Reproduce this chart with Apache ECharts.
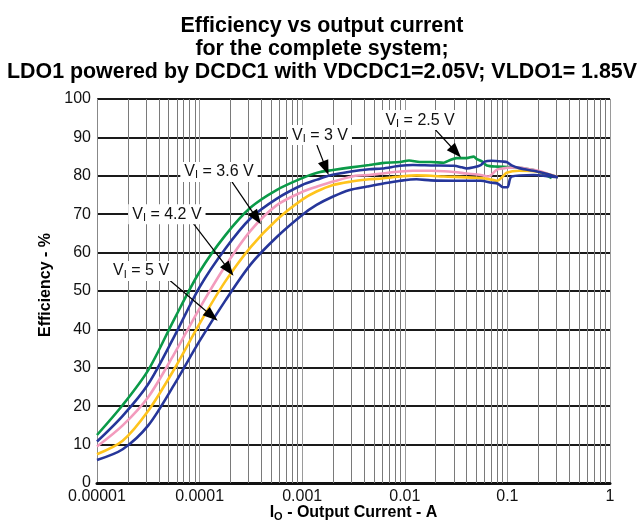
<!DOCTYPE html>
<html><head><meta charset="utf-8">
<script src="https://cdn.jsdelivr.net/npm/echarts@6/dist/echarts.min.js"></script>
<style>html,body{margin:0;padding:0;background:#fff}#c{width:644px;height:525px}</style>
</head><body><div id="c"></div>
<script>
// ---- text ----
const titleLines = ['Efficiency vs output current', 'for the complete system;', 'LDO1 powered by DCDC1 with VDCDC1=2.05V; VLDO1= 1.85V'];
const xTickLabels = ['0.00001', '0.0001', '0.001', '0.01', '0.1', '1'];
const yAxisTitle = 'Efficiency - %';
// ---- axis ticks ----
const yMin = 0, yMax = 100, yStep = 10;
const xMin = 1e-5, xMax = 1;
const decades = [1e-5, 1e-4, 1e-3, 1e-2, 1e-1];
const minorMultipliers = [2, 3, 4, 5, 6, 7, 8, 9];

// ---- series: output current (A) and efficiency (%) ----
const green25I = [1e-5, 1.78e-5, 3.16e-5, 5.62e-5, 1e-4, 1.78e-4, 3.16e-4, 5.62e-4, 1e-3, 1.4e-3, 2e-3, 3e-3, 4.5e-3, 6e-3, 9e-3, 0.011, 0.014, 0.018, 0.024, 0.027, 0.032, 0.04, 0.047, 0.05, 0.056, 0.063, 0.08, 0.1, 0.13, 0.18, 0.22, 0.27];
const green25Eff = [12.5, 20.3, 29.4, 42.5, 55, 64.5, 71.8, 76.3, 79.4, 80.8, 81.5, 82.2, 82.8, 83.3, 83.6, 84.0, 83.6, 83.6, 83.4, 84.0, 84.6, 84.6, 85.0, 84.4, 83.8, 82.7, 82.4, 82.3, 82.1, 81.5, 80.6, 79.4];

const blue30I = [1e-5, 1.78e-5, 3.16e-5, 5.62e-5, 1e-4, 1.78e-4, 3.16e-4, 5.62e-4, 1e-3, 1.4e-3, 1.8e-3, 3e-3, 4.5e-3, 6e-3, 9e-3, 0.012, 0.018, 0.03, 0.036, 0.04, 0.047, 0.055, 0.06, 0.07, 0.09, 0.1, 0.11, 0.13, 0.18, 0.25, 0.31];
const blue30Eff = [10.8, 17.5, 25.8, 38, 51, 61, 69, 74, 77.6, 79.0, 80, 81.1, 81.7, 81.9, 82.6, 82.8, 82.7, 82.6, 82.2, 81.9, 82.2, 82.8, 83.7, 83.9, 83.7, 83.5, 82.7, 82.0, 81.3, 80.4, 79.6];

const pink36I = [1e-5, 1.78e-5, 3.16e-5, 5.62e-5, 1e-4, 1.78e-4, 3.16e-4, 5.62e-4, 1e-3, 1.4e-3, 2e-3, 3.3e-3, 4.5e-3, 6e-3, 9e-3, 0.012, 0.018, 0.024, 0.03, 0.04, 0.055, 0.065, 0.079, 0.09, 0.1, 0.12, 0.15, 0.2, 0.25, 0.31];
const pink36Eff = [9.5, 15, 22.4, 33.5, 45.5, 56.5, 65.8, 72.3, 75.8, 77.2, 78.5, 80, 80.2, 80.6, 81.1, 81.3, 81.3, 81.2, 81.0, 80.6, 80.2, 79.8, 81.6, 81.9, 82.1, 82.2, 81.9, 81.3, 80.5, 79.7];

const yellow42I = [1e-5, 1.78e-5, 3.16e-5, 5.62e-5, 1e-4, 1.78e-4, 3.16e-4, 5.62e-4, 1e-3, 1.38e-3, 2e-3, 3e-3, 4.5e-3, 6e-3, 9e-3, 0.013, 0.018, 0.024, 0.04, 0.06, 0.07, 0.079, 0.09, 0.098, 0.13, 0.18, 0.25, 0.31];
const yellow42Eff = [7.5, 11, 18.8, 29.5, 41.5, 52.5, 61.5, 68.5, 73.8, 75.9, 77.6, 78.5, 79.1, 79.3, 79.8, 80.1, 80.0, 79.8, 79.6, 79.3, 79.0, 78.7, 79.8, 80.8, 81.3, 81.2, 80.4, 79.6];

const blue50I = [1e-5, 1.78e-5, 3.16e-5, 5.62e-5, 1e-4, 1.78e-4, 3.16e-4, 5.62e-4, 1e-3, 1.38e-3, 2e-3, 2.9e-3, 4.3e-3, 6.2e-3, 9e-3, 0.013, 0.018, 0.03, 0.055, 0.07, 0.08, 0.091, 0.1, 0.11, 0.18, 0.25, 0.31];
const blue50Eff = [6.0, 8.8, 15, 25.5, 37, 47.5, 57, 64, 69.8, 72.4, 74.6, 76.3, 77.2, 78.0, 78.7, 79.1, 78.8, 78.7, 78.7, 78.2, 78.0, 77.0, 77.0, 79.8, 80.2, 79.9, 79.6];

// ---- annotations ----
const annotationVolts = ['2.5 V', '3 V', '3.6 V', '4.2 V', '5 V'];
const labelI = [0.0141, 1.49e-3, 1.545e-4, 4.8e-5, 2.69e-5];
const labelEff = [94.5, 90.6, 81.0, 70.0, 55.2];
const arrowFromI = [0.01884, 1.39e-3, 2.07e-4, 8.63e-5, 4.81e-5];
const arrowFromEff = [92.7, 88.0, 78.4, 67.7, 53.4];
const arrowToI = [0.0315, 1.70e-3, 3.6e-4, 1.93e-4, 1.32e-4];
const arrowToEff = [86.2, 82.0, 69.0, 55.5, 43.5];

const FONT = '"Liberation Sans", Arial, Helvetica, sans-serif';
const zip = (xs, ys) => xs.map((x, i) => [x, ys[i]]);

function curve(name, xs, ys, color) {
  return {
    name, type: 'line', data: zip(xs, ys), showSymbol: false, smooth: 0.3,
    lineStyle: { color, width: 2.6 }, itemStyle: { color }, z: 3, silent: true
  };
}

const minorLines = [];
decades.forEach(d => minorMultipliers.forEach(m => minorLines.push({ coords: [[d * m, yMin], [d * m, yMax]] })));

const chart = echarts.init(document.getElementById('c'), null, { renderer: 'canvas' });
chart.setOption({
  animation: false,
  backgroundColor: '#fff',
  textStyle: { fontFamily: FONT },
  title: {
    text: titleLines.join('\n'), left: 'center', top: 10,
    textStyle: { fontFamily: FONT, fontSize: 21.4, fontWeight: 'bold', color: '#000', lineHeight: 23 }
  },
  grid: { left: 97, right: 34, top: 99, bottom: 42, containLabel: false, outerBoundsMode: 'none' },
  xAxis: {
    type: 'log', logBase: 10, min: xMin, max: xMax,
    axisLine: { show: true, lineStyle: { color: '#111', width: 3 } },
    axisTick: { show: false },
    axisLabel: {
      fontSize: 16, color: '#111', margin: 6, fontFamily: FONT,
      formatter: v => xTickLabels[Math.round(Math.log10(v)) + 5]
    },
    splitLine: { show: true, lineStyle: { color: '#9a9a9a', width: 1 } },
    name: '{b|I}{s|O}{b| - Output Current - A}', nameLocation: 'middle', nameGap: 21, nameMoveOverlap: false,
    nameTextStyle: {
      rich: {
        b: { fontFamily: FONT, fontSize: 16, fontWeight: 'bold', color: '#000', lineHeight: 18 },
        s: { fontFamily: FONT, fontSize: 11, fontWeight: 'bold', color: '#000', lineHeight: 11, verticalAlign: 'bottom', padding: [9, 0, 0, 0] }
      }
    }
  },
  yAxis: {
    type: 'value', min: yMin, max: yMax, interval: yStep,
    axisLine: { show: true, lineStyle: { color: '#888', width: 1 } },
    axisTick: { show: false },
    axisLabel: { fontSize: 16, color: '#111', margin: 6, fontFamily: FONT },
    splitLine: { show: true, lineStyle: { color: '#1a1a1a', width: 2 } },
    name: yAxisTitle, nameLocation: 'middle', nameGap: 42, nameRotate: 90,
    nameTextStyle: { fontFamily: FONT, fontSize: 16, fontWeight: 'bold', color: '#000', padding: [0, 0, 0, 12] }
  },
  series: [
    {
      name: 'minor-grid', type: 'lines', coordinateSystem: 'cartesian2d', z: 1, silent: true,
      polyline: false, animation: false,
      lineStyle: { color: '#7a7a7a', width: 1, opacity: 1, curveness: 0 },
      data: minorLines
    },
    curve('VI = 2.5 V', green25I, green25Eff, '#0b9a48'),
    curve('VI = 3.6 V', pink36I, pink36Eff, '#f39bbd'),
    curve('VI = 4.2 V', yellow42I, yellow42Eff, '#ffc41c'),
    curve('VI = 3 V', blue30I, blue30Eff, '#26369a'),
    curve('VI = 5 V', blue50I, blue50Eff, '#26369a'),
    {
      name: 'annotations', type: 'line', data: [], z: 10, silent: true,
      markLine: {
        silent: true, animation: false, symbol: ['none', 'triangle'], symbolSize: [11, 15],
        label: { show: false },
        lineStyle: { color: '#000', width: 1.2, type: 'solid' },
        itemStyle: { color: '#000' },
        data: annotationVolts.map((v, i) => [
          { coord: [arrowFromI[i], arrowFromEff[i]] },
          { coord: [arrowToI[i], arrowToEff[i]] }
        ])
      },
      markPoint: {
        silent: true, animation: false, symbol: 'circle', symbolSize: 1,
        itemStyle: { color: 'rgba(0,0,0,0)' },
        label: {
          show: true, position: 'inside', backgroundColor: '#fff', padding: [1, 4, 1, 4],
          rich: {
            v: { fontFamily: FONT, fontSize: 16, color: '#111', lineHeight: 18 },
            s: { fontFamily: FONT, fontSize: 11, color: '#111', lineHeight: 11, verticalAlign: 'bottom', padding: [9, 0, 0, 0] }
          }
        },
        data: annotationVolts.map((v, i) => ({
          coord: [labelI[i], labelEff[i]],
          label: { formatter: '{v|V}{s|I}{v| = ' + v + '}' }
        }))
      }
    }
  ]
});
</script>
</body></html>
